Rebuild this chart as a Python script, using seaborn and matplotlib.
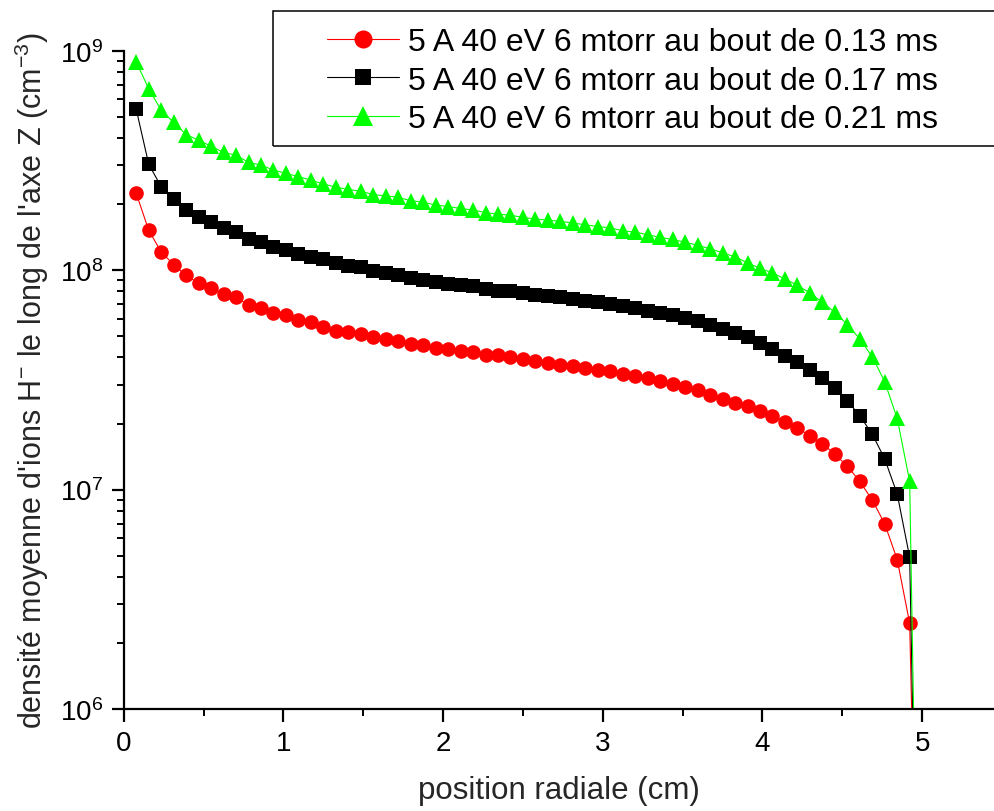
import numpy as np
import pandas as pd
import matplotlib
matplotlib.use("Agg")
import matplotlib.pyplot as plt
import seaborn as sns
from matplotlib.patches import Rectangle
from matplotlib.ticker import LogLocator, MultipleLocator, NullFormatter

# position radiale (cm), 64 points de grille
position = [0.0781, 0.1563, 0.2344, 0.3125, 0.3906, 0.4688, 0.5469, 0.625,
            0.7031, 0.7813, 0.8594, 0.9375, 1.0156, 1.0938, 1.1719, 1.25,
            1.3281, 1.4063, 1.4844, 1.5625, 1.6406, 1.7188, 1.7969, 1.875,
            1.9531, 2.0313, 2.1094, 2.1875, 2.2656, 2.3438, 2.4219, 2.5,
            2.5781, 2.6563, 2.7344, 2.8125, 2.8906, 2.9688, 3.0469, 3.125,
            3.2031, 3.2813, 3.3594, 3.4375, 3.5156, 3.5938, 3.6719, 3.75,
            3.8281, 3.9063, 3.9844, 4.0625, 4.1406, 4.2188, 4.2969, 4.375,
            4.4531, 4.5313, 4.6094, 4.6875, 4.7656, 4.8438, 4.9219, 5.0]

# densité (cm-3) au bout de 0.13 ms
dens_013 = [2.24e8, 1.52e8, 1.21e8, 1.06e8, 9.46e7, 8.73e7, 8.28e7, 7.78e7,
            7.51e7, 6.95e7, 6.71e7, 6.38e7, 6.23e7, 5.94e7, 5.80e7, 5.49e7,
            5.29e7, 5.22e7, 5.12e7, 4.94e7, 4.87e7, 4.77e7, 4.61e7, 4.55e7,
            4.42e7, 4.38e7, 4.30e7, 4.24e7, 4.12e7, 4.10e7, 4.01e7, 3.94e7,
            3.85e7, 3.78e7, 3.71e7, 3.65e7, 3.59e7, 3.52e7, 3.47e7, 3.37e7,
            3.29e7, 3.21e7, 3.12e7, 3.03e7, 2.93e7, 2.83e7, 2.71e7, 2.60e7,
            2.48e7, 2.40e7, 2.29e7, 2.17e7, 2.04e7, 1.91e7, 1.76e7, 1.62e7,
            1.45e7, 1.28e7, 1.09e7, 8.97e6, 6.98e6, 4.80e6, 2.46e6, 8e3]

# densité au bout de 0.17 ms
dens_017 = [5.41e8, 3.04e8, 2.40e8, 2.12e8, 1.88e8, 1.75e8, 1.65e8, 1.55e8,
            1.50e8, 1.39e8, 1.35e8, 1.28e8, 1.24e8, 1.18e8, 1.15e8, 1.12e8,
            1.08e8, 1.05e8, 1.03e8, 9.86e7, 9.69e7, 9.52e7, 9.20e7, 9.04e7,
            8.82e7, 8.66e7, 8.52e7, 8.43e7, 8.22e7, 8.05e7, 8.00e7, 7.86e7,
            7.67e7, 7.59e7, 7.51e7, 7.41e7, 7.25e7, 7.16e7, 7.00e7, 6.84e7,
            6.72e7, 6.53e7, 6.38e7, 6.23e7, 6.05e7, 5.89e7, 5.64e7, 5.41e7,
            5.17e7, 4.95e7, 4.66e7, 4.37e7, 4.08e7, 3.83e7, 3.52e7, 3.22e7,
            2.90e7, 2.54e7, 2.17e7, 1.79e7, 1.38e7, 9.55e6, 4.92e6, 6e3]

# densité au bout de 0.21 ms
dens_021 = [8.89e8, 6.71e8, 5.36e8, 4.71e8, 4.15e8, 3.91e8, 3.67e8, 3.44e8,
            3.34e8, 3.10e8, 3.01e8, 2.86e8, 2.76e8, 2.67e8, 2.57e8, 2.47e8,
            2.39e8, 2.33e8, 2.29e8, 2.21e8, 2.18e8, 2.15e8, 2.07e8, 2.04e8,
            1.98e8, 1.95e8, 1.91e8, 1.88e8, 1.83e8, 1.80e8, 1.78e8, 1.74e8,
            1.71e8, 1.69e8, 1.67e8, 1.64e8, 1.61e8, 1.58e8, 1.56e8, 1.51e8,
            1.49e8, 1.45e8, 1.41e8, 1.38e8, 1.34e8, 1.30e8, 1.25e8, 1.20e8,
            1.15e8, 1.08e8, 1.02e8, 9.71e7, 9.12e7, 8.53e7, 7.87e7, 7.14e7,
            6.43e7, 5.65e7, 4.86e7, 4.03e7, 3.10e7, 2.11e7, 1.09e7, 5e3]

labels = ["5 A 40 eV 6 mtorr au bout de 0.13 ms",
          "5 A 40 eV 6 mtorr au bout de 0.17 ms",
          "5 A 40 eV 6 mtorr au bout de 0.21 ms"]

sns.set_theme(style="ticks")
plt.rcParams['font.family'] = ['Liberation Sans', 'DejaVu Sans']
plt.rcParams['mathtext.fontset'] = 'custom'
plt.rcParams['mathtext.rm'] = 'Liberation Sans'
plt.rcParams['mathtext.it'] = 'Liberation Sans:italic'

fig = plt.figure(figsize=(9.94, 8.12), dpi=100)
ax = fig.add_axes([0.1245, 0.1256, 0.8755, 0.8107])

# (données, couleur, marqueur, taille courbe, taille légende)
styles = [
    (dens_013, "#ff0000", "o", 10.5, 13),
    (dens_017, "#000000", "s", 9.5, 12),
    (dens_021, "#00ff00", "^", 12, 15),
]
for (dens, couleur, marqueur, taille, _), lab in zip(styles, labels):
    df = pd.DataFrame({"r": position, "n": dens})
    sns.lineplot(data=df, x="r", y="n", ax=ax, color=couleur, marker=marqueur,
                 markersize=taille, markeredgewidth=0, linewidth=0.8,
                 label=lab, sort=False)

ax.set_yscale("log")
ax.set_ylim(1e6, 1e9)
ax.set_xlim(0, 5.45)
ax.xaxis.set_major_locator(MultipleLocator(1))
ax.xaxis.set_minor_locator(MultipleLocator(0.5))
ax.yaxis.set_major_locator(LogLocator(base=10))
ax.yaxis.set_minor_locator(LogLocator(base=10, subs=np.arange(2, 10)))
ax.yaxis.set_minor_formatter(NullFormatter())

for s in ["top", "right"]:
    ax.spines[s].set_visible(False)
for s in ["left", "bottom"]:
    ax.spines[s].set_linewidth(1.6)
    ax.spines[s].set_color("black")

ax.tick_params(which="major", direction="out", length=9, width=1.6,
               labelsize=20, colors="black", pad=6)
ax.tick_params(which="minor", direction="out", length=5, width=1.4,
               colors="black")

ax.set_xlabel("position radiale (cm)", fontsize=22.5, labelpad=14)
ax.set_ylabel("densité moyenne d'ions H$^{-}$ le long de l'axe Z (cm$^{-3}$)",
              fontsize=22, labelpad=6)

# cadre de la légende (déborde à droite comme dans l'original)
cadre = Rectangle((273.3 / 994, 1 - 146.7 / 812), 730 / 994, 134.4 / 812,
                  transform=fig.transFigure, fill=False, edgecolor="black",
                  linewidth=1.1, clip_on=False)
fig.add_artist(cadre)

h, l = ax.get_legend_handles_labels()
ax.get_legend().remove()
leg = fig.legend(h, l, loc="upper left",
                 bbox_to_anchor=(327.3 / 994, 1 - 28 / 812),
                 fontsize=23, frameon=False,
                 handlelength=2.26, handletextpad=0.28, labelspacing=0.27,
                 borderpad=0, borderaxespad=0)
for poignee, st in zip(leg.legend_handles, styles):
    poignee.set_markersize(st[4])
for t in leg.get_texts():
    t.set_color("black")

fig.savefig("out.png", dpi=100)
